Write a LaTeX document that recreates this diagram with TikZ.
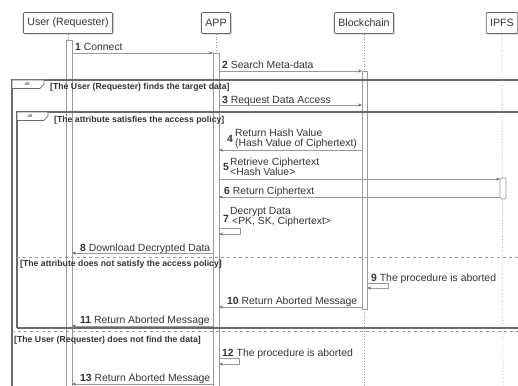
\documentclass[tikz,border=0pt]{standalone}
\usepackage{fontspec}
\setmainfont{Liberation Sans}
\usetikzlibrary{arrows.meta,shadows}
\definecolor{ink}{HTML}{333333}
\definecolor{lne}{HTML}{9A9A9A}
\definecolor{frm}{HTML}{6A6A6A}
\begin{document}
\begin{tikzpicture}[x=1pt,y=-1pt,
  head/.style={draw=frm, fill=white, line width=0.8pt, rounded corners=1pt,
    font=\fontsize{10.6}{12}\selectfont, text=ink, inner xsep=4pt, inner ysep=3pt, minimum height=21pt,
    drop shadow={shadow xshift=1.5pt, shadow yshift=-1.5pt, fill=gray!45}},
  life/.style={draw=lne, dotted, line width=0.7pt},
  bar/.style={draw=lne, fill=white, line width=0.7pt},
  msg/.style={draw=lne, line width=0.7pt, -{Stealth[length=4pt,width=3pt,color=frm]}},
  lbl/.style={font=\fontsize{10.4}{12}\selectfont, text=ink, inner sep=0pt, anchor=base west},
  guard/.style={font=\fontsize{8.7}{10}\selectfont\bfseries, text=ink, inner sep=0pt, anchor=base west},
  frame/.style={draw=frm, line width=1.3pt},
  sep/.style={draw=lne, dashed, line width=0.7pt},
  tab/.style={draw=frm, fill=white, line width=0.7pt},
  tabtxt/.style={font=\fontsize{4.5}{5}\selectfont, text=ink, inner sep=0pt}
]
\useasboundingbox (0,0) rectangle (518,385);
\clip (0,0) rectangle (518,385);

% headers
\node[head] (user) at (68,23) {User (Requester)};
\node[head] (app) at (216,23) {APP};
\node[head] (bc) at (364,23) {Blockchain};
\node[head] (ipfs) at (502,23) {IPFS};

% lifelines
\draw[life] (user.south) -- (68,40);
\draw[life] (app.south) -- (216,400);
\draw[life] (bc.south) -- (364,400);
\draw[life] (ipfs.south) -- (503,400);

% activation bars
\draw[bar] (66,40) rectangle (72,395);
\draw[bar] (213,53) rectangle (219,395);
\draw[bar] (362,71) rectangle (367,309);
\draw[bar, rounded corners=1.5pt] (500,178) rectangle (506,199);

% frames
\draw[frame] (12,395) -- (12,80) -- (525,80);
\draw[frame] (17,328) -- (17,112) -- (525,112);
\draw[frame] (17,328) -- (525,328);
\draw[sep] (17,257) -- (525,257);
\draw[sep] (12,331) -- (525,331);
\draw[tab] (12,80) -- (44,80) -- (44,84) -- (40,88.5) -- (12,88.5) -- cycle;
\node[tabtxt] (alt1) at (27,84) {alt};
\draw[tab] (17,112) -- (48,112) -- (48,116) -- (44,120.5) -- (17,120.5) -- cycle;
\node[tabtxt] (alt2) at (30,116) {alt};
\node[guard] (g1) at (50,89) {[The User (Requester) finds the target data]};
\node[guard] (g2) at (54,122) {[The attribute satisfies the access policy]};
\node[guard] (g3) at (20,266) {[The attribute does not satisfy the access policy]};
\node[guard] (g4) at (14,342.5) {[The User (Requester) does not find the data]};

% message end points
\coordinate (u1) at (72,53);   \coordinate (a1) at (213,53);
\coordinate (a2) at (219,71);  \coordinate (b2) at (362,71);
\coordinate (a3) at (219,105); \coordinate (b3) at (362,105);
\coordinate (b4) at (362,150); \coordinate (a4) at (219,150);
\coordinate (a5) at (219,179); \coordinate (i5) at (500,179);
\coordinate (i6) at (500,197); \coordinate (a6) at (219,197);
\coordinate (a8) at (213,253); \coordinate (u8) at (72,253);
\coordinate (b10) at (362,307); \coordinate (a10) at (219,307);
\coordinate (a11) at (213,326); \coordinate (u11) at (72,326);
\coordinate (a13) at (213,384); \coordinate (u13) at (72,384);

\draw[msg] (u1) -- (a1);
\draw[msg] (a2) -- (b2);
\draw[msg] (a3) -- (b3);
\draw[msg] (b4) -- (a4);
\draw[msg] (a5) -- (i5);
\draw[msg] (i6) -- (a6);
\draw[msg] (219,228) -- (240,228) -- (240,234) -- (219,234);
\draw[msg] (a8) -- (u8);
\draw[msg] (367,283) -- (388,283) -- (388,288) -- (367,288);
\draw[msg] (b10) -- (a10);
\draw[msg] (a11) -- (u11);
\draw[msg] (219,358) -- (239,358) -- (239,364) -- (219,364);
\draw[msg] (a13) -- (u13);

% labels
\node[lbl] (l1) at (75,51) {\textbf{1} Connect};
\node[lbl] (l2) at (222,69) {\textbf{2} Search Meta-data};
\node[lbl] (l3) at (222,103) {\textbf{3} Request Data Access};
\node[lbl] (n4) at (227,142) {\textbf{4}};
\node[lbl] (l4a) at (235,136) {Return Hash Value};
\node[lbl] (l4b) at (235,146.5) {(Hash Value of Ciphertext)};
\node[lbl] (n5) at (223,170.5) {\textbf{5}};
\node[lbl] (l5a) at (230,165) {Retrieve Ciphertext};
\node[lbl] (l5b) at (230,175.5) {<Hash Value>};
\node[lbl] (l6) at (224,194) {\textbf{6} Return Ciphertext};
\node[lbl] (n7) at (223,222) {\textbf{7}};
\node[lbl] (l7a) at (230,214) {Decrypt Data};
\node[lbl] (l7b) at (232,224.5) {<PK, SK, Ciphertext>};
\node[lbl] (l8) at (80,251) {\textbf{8} Download Decrypted Data};
\node[lbl] (l9) at (371,281) {\textbf{9} The procedure is aborted};
\node[lbl] (l10) at (227,304.5) {\textbf{10} Return Aborted Message};
\node[lbl] (l11) at (80,323) {\textbf{11} Return Aborted Message};
\node[lbl] (l12) at (222,356.5) {\textbf{12} The procedure is aborted};
\node[lbl] (l13) at (80,381) {\textbf{13} Return Aborted Message};
\end{tikzpicture}
\end{document}
